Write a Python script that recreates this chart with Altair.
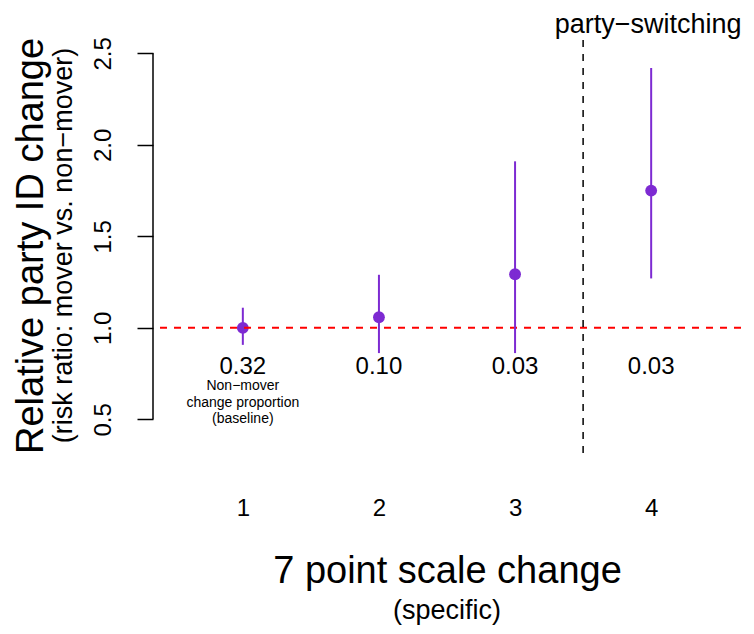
import altair as alt
import pandas as pd

# ---- data ----
scale_change = [1, 2, 3, 4]
risk_ratio = [1.00, 1.058, 1.293, 1.75]
ci_low = [0.907, 0.862, 0.862, 1.27]
ci_high = [1.11, 1.29, 1.91, 2.42]
baseline_prop = ["0.32", "0.10", "0.03", "0.03"]
note_lines = ["Non\u2212mover", "change proportion", "(baseline)"]
y_ticks = [0.5, 1.0, 1.5, 2.0, 2.5]
ref_value = [1.0]
separator = [3.5]
top_label = ["party\u2212switching"]

FONT = "Liberation Sans"
PURPLE = "#7D2AD2"
W, H = 588, 415

pts = pd.DataFrame({"x": scale_change, "rr": risk_ratio, "lo": ci_low,
                    "hi": ci_high, "prop": baseline_prop})

xs = alt.Scale(domain=[0.34, 4.66], nice=False, zero=False)
ys = alt.Scale(domain=[0.316, 2.584], nice=False, zero=False)

x_axis = alt.Axis(values=scale_change, format="d", domain=False, ticks=False,
                  grid=False, labelFontSize=24, labelFont=FONT,
                  labelColor="black", labelBaseline="alphabetic", labelPadding=62,
                  title="7 point scale change", titleFontSize=38, titleFont=FONT,
                  titleFontWeight="normal", titleColor="black",
                  titleBaseline="alphabetic", titleAlign="center",
                  titleX=W / 2, titleY=129)
y_axis = alt.Axis(values=y_ticks, format=".1f", domain=False, grid=False,
                  ticks=True, tickSize=16, tickWidth=1.5, tickColor="black",
                  labelAngle=270, labelFontSize=24, labelFont=FONT,
                  labelColor="black", labelAlign="center",
                  labelBaseline="alphabetic", labelPadding=27,
                  title="Relative party ID change", titleAngle=270,
                  titleFontSize=38, titleFont=FONT, titleFontWeight="normal",
                  titleColor="black", titleBaseline="alphabetic",
                  titleAlign="center", titleX=-111, titleY=H / 2)

base = alt.Chart(pts)

dots = base.mark_circle(color=PURPLE, size=140, opacity=1).encode(
    x=alt.X("x:Q", scale=xs, axis=x_axis),
    y=alt.Y("rr:Q", scale=ys, axis=y_axis))

axis_line = alt.Chart(pd.DataFrame({"lo": [y_ticks[0]], "hi": [y_ticks[-1]]})).mark_rule(
    color="black", strokeWidth=1.5).encode(
    x=alt.value(0), y=alt.Y("lo:Q", scale=ys, axis=y_axis), y2="hi:Q")

ref_line = alt.Chart(pd.DataFrame({"ref": ref_value})).mark_rule(
    color="#FF0000", strokeWidth=2, strokeDash=[7, 7]).encode(
    y=alt.Y("ref:Q", scale=ys, axis=y_axis))

sep_line = alt.Chart(pd.DataFrame({"sep": separator})).mark_rule(
    color="black", strokeWidth=1.5, strokeDash=[7, 7]).encode(
    x=alt.X("sep:Q", scale=xs, axis=x_axis), y=alt.value(H), y2=alt.value(0))

bars = base.mark_rule(color=PURPLE, strokeWidth=2).encode(
    x=alt.X("x:Q", scale=xs, axis=x_axis),
    y=alt.Y("lo:Q", scale=ys, axis=y_axis), y2="hi:Q")

props = base.mark_text(font=FONT, fontSize=24, color="black", align="center",
                       baseline="alphabetic").encode(
    x=alt.X("x:Q", scale=xs, axis=x_axis),
    y=alt.YDatum(0.75, scale=ys, axis=y_axis), text="prop:N")

note = alt.Chart(pd.DataFrame({"x": [scale_change[0]], "t": ["\n".join(note_lines)]})).mark_text(
    font=FONT, fontSize=14, color="black", align="center", baseline="alphabetic",
    lineBreak="\n", lineHeight=16.5).encode(
    x=alt.X("x:Q", scale=xs, axis=x_axis),
    y=alt.YDatum(0.66, scale=ys, axis=y_axis), text="t:N")

top = alt.Chart(pd.DataFrame({"x": [scale_change[-1]], "t": top_label})).mark_text(
    font=FONT, fontSize=27, color="black", align="center", baseline="alphabetic",
    dx=-3).encode(
    x=alt.X("x:Q", scale=xs, axis=x_axis),
    y=alt.YDatum(2.612, scale=ys, axis=y_axis), text="t:N")

y_sub = alt.Chart(pd.DataFrame({"t": ["(risk ratio: mover vs. non\u2212mover)"]})).mark_text(
    font=FONT, fontSize=27, color="black", align="center", baseline="alphabetic",
    angle=270).encode(x=alt.value(-81), y=alt.value(H / 2), text="t:N")

x_sub = alt.Chart(pd.DataFrame({"t": ["(specific)"]})).mark_text(
    font=FONT, fontSize=27, color="black", align="center", baseline="alphabetic").encode(
    x=alt.value(W / 2), y=alt.value(581), text="t:N")

chart = alt.layer(dots, axis_line, ref_line, sep_line, bars, props, note, top,
                  y_sub, x_sub).properties(
    width=W, height=H,
    autosize=alt.AutoSizeParams(type="none"),
    padding={"left": 145, "top": 30, "right": 5, "bottom": 173},
    background="white",
).configure_view(stroke=None)

chart.save("out.html", embed_options={"renderer": "svg", "actions": False})
